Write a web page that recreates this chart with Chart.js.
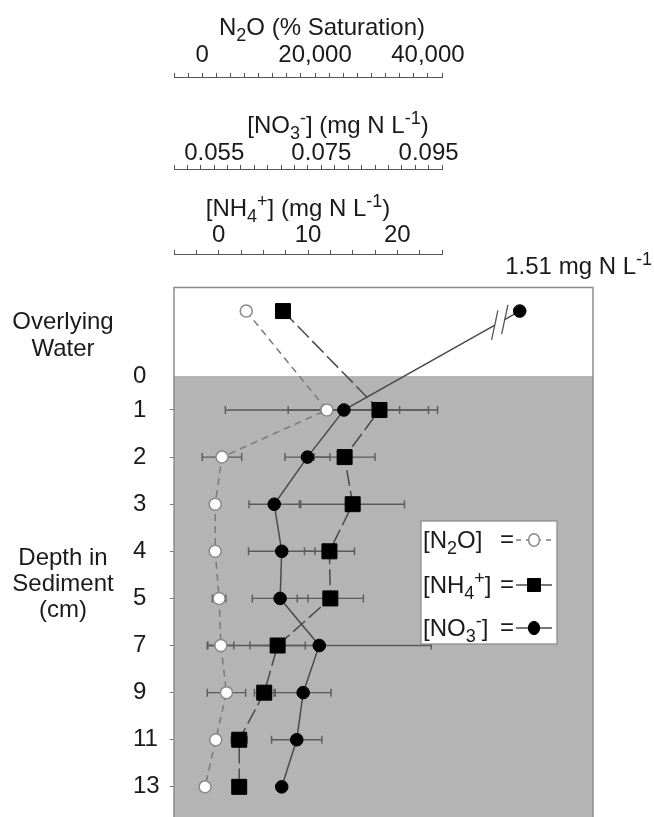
<!DOCTYPE html>
<html>
<head>
<meta charset="utf-8">
<title>N2O, NH4+ and NO3- profile</title>
<script src="https://cdn.jsdelivr.net/npm/chart.js@4.4.1/dist/chart.umd.min.js"></script>
<style>
  html, body { margin: 0; padding: 0; background: #fff; }
  canvas { display: block; }
</style>
</head>
<body>
<canvas id="perfil" width="654" height="817"></canvas>
<script>
// rows of the profile, overlying water first, then sediment depths (cm)
const sampleRows = ['Overlying Water', '1', '2', '3', '4', '5', '7', '9', '11', '13'];
const rowSlot = [-1.1, 1, 2, 3, 4, 5, 6, 7, 8, 9];
const surfaceSlot = 0.28;
const depthTickLabels = ['0', '1', '2', '3', '4', '5', '7', '9', '11', '13'];
const depthTickSlots = [0.28, 1, 2, 3, 4, 5, 6, 7, 8, 9];

// N2O (% saturation)
const n2oSat = [7800, 22100, 3500, 2300, 2300, 3000, 3300, 4300, 2400, 500];
const n2oErr = [0, 18000, 3500, 500, 500, 1200, 2300, 3400, 400, 0];
// NH4+ (mg N/L)
const nh4 = [7.2, 18.0, 14.1, 15.0, 12.4, 12.5, 6.6, 5.1, 2.3, 2.3];
const nh4Err = [0, 6.5, 3.4, 5.8, 2.8, 3.7, 3.1, 1.1, 0.9, 0];
// NO3- (mg N/L); overlying water is off the scale (axis break)
const no3 = [1.51, 0.0792, 0.0724, 0.0662, 0.0676, 0.0673, 0.0746, 0.0716, 0.0704, 0.0676];
const no3Err = [0, 0.0104, 0.0042, 0.0047, 0.0062, 0.0052, 0.0209, 0.0052, 0.0047, 0];

// top axes
const n2oRange = { min: -5000, max: 42500, step: 2500 };
const n2oTickValues = [0, 20000, 40000];
const n2oTickLabels = ['0', '20,000', '40,000'];
const no3Range = { min: 0.0475, max: 0.0975, step: 0.0025 };
const no3TickValues = [0.055, 0.075, 0.095];
const no3TickLabels = ['0.055', '0.075', '0.095'];
const nh4Range = { min: -5, max: 25, step: 2.5 };
const nh4TickValues = [0, 10, 20];
const nh4TickLabels = ['0', '10', '20'];

const n2oTitle = [['N'], ['2', 'sub'], ['O (% Saturation)']];
const no3Title = [['[NO'], ['3', 'sub'], ['-', 'sup'], ['] (mg N L'], ['-1', 'sup'], [')']];
const nh4Title = [['[NH'], ['4', 'sub'], ['+', 'sup'], ['] (mg N L'], ['-1', 'sup'], [')']];
const n2oName = [['[N'], ['2', 'sub'], ['O]']];
const nh4Name = [['[NH'], ['4', 'sub'], ['+', 'sup'], [']']];
const no3Name = [['[NO'], ['3', 'sub'], ['-', 'sup'], [']']];

const FONT = "'Liberation Sans', Arial, sans-serif";
const INK = '#1a1a1a';
const AXIS_FRACTION = 268 / 419; // top axes only cover the left part of the box

// linear scale with a gap cut out of it, for the off-scale nitrate value
class BrokenLinearScale extends Chart.LinearScale {
  getPixelForValue(value) {
    const brk = this.options.axisBreak;
    if (brk && value >= brk.to) value = brk.from + (value - brk.to);
    return super.getPixelForValue(value);
  }
}
BrokenLinearScale.id = 'brokenLinear';
BrokenLinearScale.defaults = Chart.LinearScale.defaults;
Chart.register(BrokenLinearScale);

function stepTicks(r) {
  const out = [];
  for (let i = 0; r.min + i * r.step <= r.max + r.step * 1e-6; i++) {
    out.push({ value: +(r.min + i * r.step).toFixed(6) });
  }
  return out;
}

function topAxis(range, values, labels, weight, height, pad, extra) {
  return Object.assign({
    type: 'linear',
    position: 'top',
    weight: weight,
    min: range.min,
    max: range.min + (range.max - range.min) / AXIS_FRACTION,
    afterBuildTicks: s => { s.ticks = stepTicks(range); },
    afterFit: s => { s.height = height; s.paddingLeft = 0; s.paddingRight = 0; },
    border: { display: false },
    grid: { drawOnChartArea: false, drawTicks: true, tickLength: 5, color: '#555', lineWidth: 1 },
    ticks: {
      autoSkip: false, maxRotation: 0, padding: pad, color: INK,
      font: { family: FONT, size: 24, lineHeight: 1 },
      callback: v => {
        const i = values.findIndex(t => Math.abs(t - v) < range.step * 1e-3);
        return i < 0 ? '' : labels[i];
      }
    }
  }, extra || {});
}

// text with sub/superscripts: parts = [[text, 'sub'|'sup'|undefined], ...]
function richText(ctx, parts, x, cy, size, align) {
  const small = Math.round(size * 0.75);
  const fontOf = k => (k ? small : size) + 'px ' + FONT;
  let w = 0;
  parts.forEach(([t, k]) => { ctx.font = fontOf(k); w += ctx.measureText(t).width; });
  let cx = align === 'center' ? x - w / 2 : align === 'right' ? x - w : x;
  const base = cy + size * 0.35;
  ctx.textAlign = 'left';
  ctx.textBaseline = 'alphabetic';
  parts.forEach(([t, k]) => {
    ctx.font = fontOf(k);
    const dy = k === 'sub' ? size * 0.22 : k === 'sup' ? -size * 0.4 : 0;
    ctx.fillText(t, cx, base + dy);
    cx += ctx.measureText(t).width;
  });
  return w;
}

const errorSeries = [
  { axis: 'n2o', values: n2oSat, errors: n2oErr },
  { axis: 'nh4', values: nh4, errors: nh4Err },
  { axis: 'no3', values: no3, errors: no3Err }
];

const profileDecor = {
  id: 'profileDecor',
  beforeDraw(chart) {
    const { ctx, chartArea: a, scales } = chart;
    ctx.save();
    ctx.fillStyle = '#fff';
    ctx.fillRect(0, 0, chart.width, chart.height);
    const ySurf = scales.y.getPixelForValue(surfaceSlot);
    ctx.fillStyle = '#b4b4b4';
    ctx.fillRect(a.left, ySurf, a.right - a.left, a.bottom - ySurf);
    ctx.restore();
  },
  beforeDatasetsDraw(chart) {
    const { ctx, scales } = chart;
    ctx.save();
    ctx.strokeStyle = '#5a5a5a';
    ctx.lineWidth = 1.4;
    errorSeries.forEach(s => {
      const xs = scales[s.axis];
      s.errors.forEach((e, i) => {
        if (!e) return;
        const y = scales.y.getPixelForValue(rowSlot[i]);
        const x1 = xs.getPixelForValue(s.values[i] - e);
        const x2 = xs.getPixelForValue(s.values[i] + e);
        ctx.beginPath();
        ctx.moveTo(x1, y); ctx.lineTo(x2, y);
        ctx.moveTo(x1, y - 4); ctx.lineTo(x1, y + 4);
        ctx.moveTo(x2, y - 4); ctx.lineTo(x2, y + 4);
        ctx.stroke();
      });
    });
    ctx.restore();
  },
  afterDatasetsDraw(chart) {
    const { ctx, chartArea: a, scales } = chart;
    ctx.save();

    // break in the nitrate line on its way to the overlying-water value
    const m = chart.getDatasetMeta(2).data;
    const p0 = m[0], p1 = m[1];
    const at = t => ({ x: p0.x + (p1.x - p0.x) * t, y: p0.y + (p1.y - p0.y) * t });
    const g0 = at(0.085), g1 = at(0.142);
    ctx.strokeStyle = '#fff';
    ctx.lineWidth = 4;
    ctx.beginPath(); ctx.moveTo(g0.x, g0.y); ctx.lineTo(g1.x, g1.y); ctx.stroke();
    ctx.strokeStyle = '#555';
    ctx.lineWidth = 1.3;
    [g0, g1].forEach(g => {
      ctx.beginPath();
      ctx.moveTo(g.x - 0.21 * 15, g.y + 0.98 * 15);
      ctx.lineTo(g.x + 0.21 * 15, g.y - 0.98 * 15);
      ctx.stroke();
    });

    // box outline
    ctx.strokeStyle = '#8c8c8c';
    ctx.lineWidth = 1.5;
    ctx.beginPath();
    ctx.moveTo(a.left, a.bottom + 2);
    ctx.lineTo(a.left, a.top);
    ctx.lineTo(a.right, a.top);
    ctx.lineTo(a.right, a.bottom + 2);
    ctx.stroke();

    // top axis lines and titles
    ctx.strokeStyle = '#555';
    ctx.lineWidth = 1;
    [['n2o', n2oRange], ['no3', no3Range], ['nh4', nh4Range]].forEach(([id, r]) => {
      const s = scales[id];
      const y = Math.round(s.bottom) - 0.5;
      ctx.beginPath();
      ctx.moveTo(s.getPixelForValue(r.min), y);
      ctx.lineTo(s.getPixelForValue(r.max), y);
      ctx.stroke();
    });
    ctx.fillStyle = INK;
    richText(ctx, n2oTitle, a.left + 148, 27, 24, 'center');
    richText(ctx, no3Title, a.left + 164, 125, 24, 'center');
    richText(ctx, nh4Title, a.left + 124, 208, 24, 'center');

    // value of the off-scale point
    richText(ctx, [[no3[0] + ' mg N L'], ['-1', 'sup']], 652, 266, 24, 'right');

    // left-hand labels
    ctx.font = '24px ' + FONT;
    ctx.textAlign = 'center';
    ctx.textBaseline = 'middle';
    ctx.fillText('Overlying', 63, 322);
    ctx.fillText('Water', 63, 349);
    ctx.fillText('Depth in', 63, 558);
    ctx.fillText('Sediment', 63, 584);
    ctx.fillText('(cm)', 63, 610);

    // legend
    const lx = 421, ly = 521, lw = 136, lh = 123;
    ctx.fillStyle = '#fff';
    ctx.fillRect(lx, ly, lw, lh);
    ctx.strokeStyle = '#888';
    ctx.lineWidth = 1.2;
    ctx.strokeRect(lx, ly, lw, lh);
    const rows = [
      { name: n2oName, y: 540, ds: 0 },
      { name: nh4Name, y: 585, ds: 1 },
      { name: no3Name, y: 628, ds: 2 }
    ];
    rows.forEach(r => {
      const d = chart.data.datasets[r.ds];
      ctx.fillStyle = INK;
      richText(ctx, r.name, 423, r.y, 24, 'left');
      ctx.font = '24px ' + FONT;
      ctx.textAlign = 'right';
      ctx.textBaseline = 'middle';
      ctx.fillText('=', 514, r.y);
      ctx.strokeStyle = d.borderColor;
      ctx.lineWidth = 1.4;
      ctx.setLineDash(r.ds === 0 ? [5, 5] : []);
      ctx.beginPath(); ctx.moveTo(516, r.y); ctx.lineTo(552, r.y); ctx.stroke();
      ctx.setLineDash([]);
      ctx.fillStyle = d.pointBackgroundColor;
      ctx.strokeStyle = d.pointBorderColor;
      ctx.lineWidth = d.pointBorderWidth;
      ctx.beginPath();
      if (d.pointStyle === 'rect') {
        ctx.rect(534 - 6.5, r.y - 6.5, 13, 13);
      } else {
        ctx.ellipse(534, r.y, d.pointRadius * 0.9, d.pointRadius * 1.05, 0, 0, Math.PI * 2);
      }
      ctx.fill();
      ctx.stroke();
    });
    ctx.restore();
  }
};

const points = vals => vals.map((v, i) => ({ x: v, y: rowSlot[i] }));

new Chart(document.getElementById('perfil'), {
  type: 'scatter',
  data: {
    datasets: [
      {
        label: 'N2O', data: points(n2oSat), xAxisID: 'n2o', yAxisID: 'y', showLine: true,
        borderColor: '#7a7a7a', borderWidth: 1.5, borderDash: [7, 5],
        pointStyle: 'circle', pointRadius: 6, pointBackgroundColor: '#ffffff',
        pointBorderColor: '#8a8a8a', pointBorderWidth: 1.5
      },
      {
        label: 'NH4+', data: points(nh4), xAxisID: 'nh4', yAxisID: 'y', showLine: true,
        borderColor: '#4a4a4a', borderWidth: 1.5, borderDash: [16, 5],
        pointStyle: 'rect', pointRadius: 10.6, pointBackgroundColor: '#000000',
        pointBorderColor: '#000000', pointBorderWidth: 1
      },
      {
        label: 'NO3-', data: points(no3), xAxisID: 'no3', yAxisID: 'y', showLine: true,
        borderColor: '#4a4a4a', borderWidth: 1.5,
        pointStyle: 'circle', pointRadius: 6.3, pointBackgroundColor: '#000000',
        pointBorderColor: '#000000', pointBorderWidth: 1
      }
    ]
  },
  options: {
    responsive: false,
    animation: false,
    events: [],
    devicePixelRatio: 1,
    layout: { autoPadding: false, padding: { left: 133, right: 61, top: 0, bottom: 0 } },
    plugins: { legend: { display: false }, tooltip: { enabled: false } },
    scales: {
      n2o: topAxis(n2oRange, n2oTickValues, n2oTickLabels, 4, 78, 6),
      no3: topAxis(no3Range, no3TickValues, no3TickLabels, 3, 92, 0,
        { type: 'brokenLinear', axisBreak: { from: 0.112, to: 1.51 } }),
      nh4: topAxis(nh4Range, nh4TickValues, nh4TickLabels, 2, 85, 3),
      gap: {
        type: 'linear', position: 'top', weight: 1, min: 0, max: 1,
        afterFit: s => { s.height = 32.5; s.paddingLeft = 0; s.paddingRight = 0; },
        border: { display: false }, grid: { display: false }, ticks: { display: false }
      },
      y: {
        type: 'linear', position: 'left', reverse: true, min: -1.6, max: 9.64,
        afterBuildTicks: s => { s.ticks = depthTickSlots.map(v => ({ value: v })); },
        afterFit: s => { s.width = 41; s.paddingTop = 0; s.paddingBottom = 0; },
        border: { display: false },
        grid: {
          drawOnChartArea: false, drawTicks: true, tickLength: 4, lineWidth: 1,
          color: c => (c.index === 0 ? 'rgba(0,0,0,0)' : '#777')
        },
        ticks: {
          autoSkip: false, crossAlign: 'far', color: INK,
          font: { family: FONT, size: 24, lineHeight: 1 },
          callback: (v, i) => depthTickLabels[i]
        }
      }
    }
  },
  plugins: [profileDecor]
});
</script>
</body>
</html>
